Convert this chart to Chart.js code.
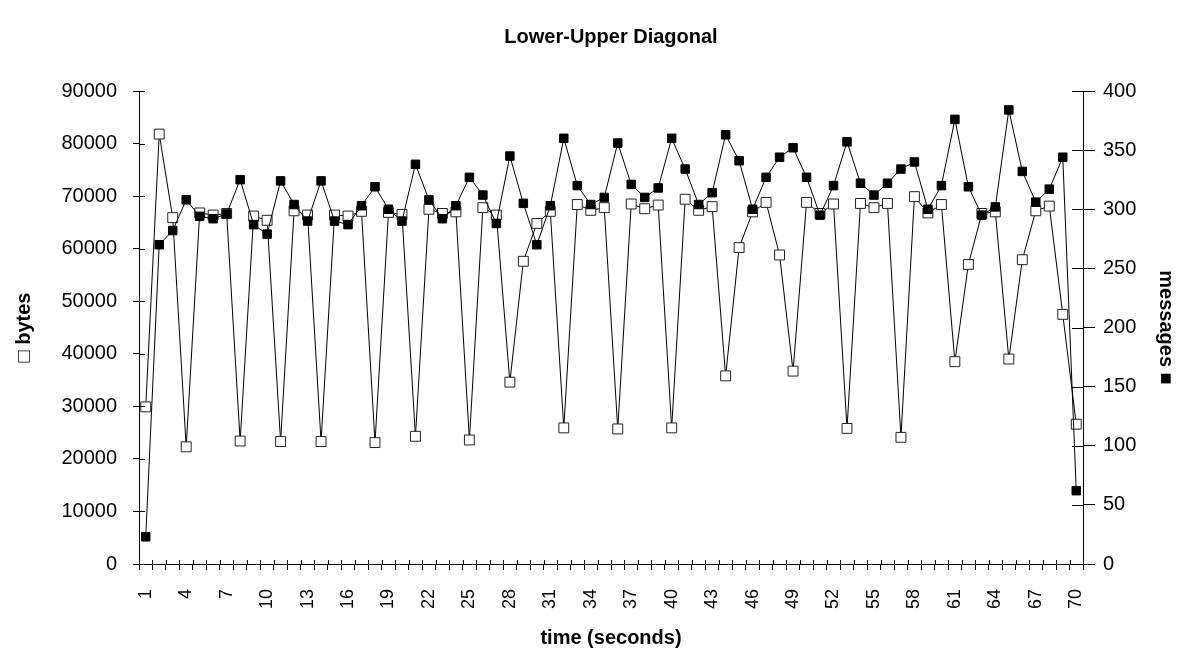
<!DOCTYPE html>
<html lang="en">
  <head>
    <meta charset="UTF-8" />
    <title>Lower-Upper Diagonal</title>
    <script src="https://cdn.jsdelivr.net/npm/chart.js"></script>
    <style>
      body { margin: 0; background: #fff; }
      #wrap { width: 1184px; height: 653px; }
    </style>
  </head>
  <body>
    <div id="wrap"><canvas id="luChart"></canvas></div>

    <script>
      // time axis (seconds)
      const times = Array.from({ length: 70 }, (_, i) => i + 1);

      // bytes (left axis, open squares)
      const bytes = [
        29900, 81800, 65900, 22300, 66800, 66400, 66700, 23400, 66200, 65400,
        23300, 67200, 66400, 23300, 66400, 66200, 67100, 23100, 66900, 66500,
        24300, 67500, 66700, 67000, 23600, 67800, 66400, 34600, 57600, 64800,
        67100, 25900, 68400, 67300, 67800, 25700, 68500, 67600, 68300, 25900,
        69400, 67300, 68000, 35800, 60200, 67000, 68800, 58800, 36700, 68800,
        66700, 68500, 25800, 68600, 67800, 68600, 24100, 69900, 66800, 68400,
        38500, 57000, 66700, 67000, 39000, 57900, 67200, 68100, 47500, 26600,
      ];

      // messages (right axis, filled squares)
      const messages = [
        23, 270, 282, 308, 294, 292, 296, 325, 287, 279,
        324, 304, 290, 324, 290, 287, 303, 319, 300, 290,
        338, 308, 292, 303, 327, 312, 288, 345, 305, 270,
        303, 360, 320, 304, 310, 356, 321, 310, 318, 360,
        334, 304, 314, 363, 341, 300, 327, 344, 352, 327,
        295, 320, 357, 322, 312, 322, 334, 340, 300, 320,
        376, 319, 295, 302, 384, 332, 306, 317, 344, 62,
      ];

      const FONT = "'Liberation Sans', Arial, sans-serif";

      // tick marks that cross the axis lines (drawn inside the plot)
      const innerTicks = {
        id: "innerTicks",
        afterDraw(chart) {
          const { ctx, scales } = chart;
          const { x, y, y1 } = scales;
          ctx.save();
          ctx.strokeStyle = "#000";
          ctx.lineWidth = 1;
          ctx.beginPath();
          y.ticks.forEach((t) => {
            const py = Math.round(y.getPixelForValue(t.value)) + 0.5;
            ctx.moveTo(y.right, py);
            ctx.lineTo(y.right + 6, py);
          });
          y1.ticks.forEach((t) => {
            const py = Math.round(y1.getPixelForValue(t.value)) + 0.5;
            ctx.moveTo(y1.left, py);
            ctx.lineTo(y1.left - 11, py);
          });
          const half = (x.getPixelForValue(1) - x.getPixelForValue(0)) / 2;
          for (let i = 0; i <= times.length; i += 1) {
            const px = Math.round(x.getPixelForValue(i) - half) + 0.5;
            ctx.moveTo(px, x.top);
            ctx.lineTo(px, x.top - 4);
          }
          ctx.stroke();
          ctx.restore();
        },
      };

      const ctx = document.getElementById("luChart").getContext("2d");
      new Chart(ctx, {
        type: "line",
        data: {
          labels: times,
          datasets: [
            {
              label: "messages",
              data: messages,
              yAxisID: "y1",
              borderColor: "#000",
              borderWidth: 1,
              pointStyle: "rect",
              pointRadius: 6,
              pointBackgroundColor: "#000",
              pointBorderColor: "#000",
              pointBorderWidth: 1,
              fill: false,
            },
            {
              label: "bytes",
              data: bytes,
              yAxisID: "y",
              borderColor: "#000",
              borderWidth: 1,
              pointStyle: "rect",
              pointRadius: 7,
              pointBackgroundColor: "#fff",
              pointBorderColor: "#222",
              pointBorderWidth: 1,
              fill: false,
            },
          ],
        },
        options: {
          responsive: true,
          maintainAspectRatio: false,
          animation: false,
          layout: { padding: 0 },
          plugins: {
            legend: { display: false },
            tooltip: { enabled: false },
            title: {
              display: true,
              text: "Lower-Upper Diagonal",
              color: "#000",
              fullSize: false,
              font: { family: FONT, size: 20, weight: "bold" },
              padding: { top: 25, bottom: 42 },
            },
          },
          scales: {
            x: {
              offset: true,
              grid: {
                display: true,
                offset: true,
                drawOnChartArea: false,
                color: "#000",
                tickLength: 6,
              },
              border: { display: true, color: "#000" },
              ticks: {
                autoSkip: false,
                minRotation: 90,
                maxRotation: 90,
                padding: 19,
                color: "#000",
                font: { family: FONT, size: 18 },
                callback: (val, idx) => (idx % 3 === 0 ? String(times[idx]) : ""),
              },
              title: {
                display: true,
                text: "time (seconds)",
                color: "#000",
                font: { family: FONT, size: 20, weight: "bold" },
                padding: { top: 0, bottom: 3 },
              },
              afterFit: (scale) => {
                scale.height = 89;
              },
            },
            y: {
              position: "left",
              min: 0,
              max: 90000,
              grid: { drawOnChartArea: false, color: "#000", tickLength: 6 },
              border: { display: true, color: "#000" },
              ticks: {
                stepSize: 10000,
                padding: 16,
                color: "#000",
                font: { family: FONT, size: 20 },
                callback: (val) => String(val),
              },
              title: {
                display: true,
                text: "\u25A1 bytes",
                color: "#000",
                font: { family: FONT, size: 20, weight: "bold" },
                padding: { top: 12, bottom: 0 },
              },
              afterFit: (scale) => {
                scale.width = 139;
              },
            },
            y1: {
              position: "right",
              min: 0,
              max: 400,
              grid: { drawOnChartArea: false, color: "#000", tickLength: 12 },
              border: { display: true, color: "#000" },
              ticks: {
                stepSize: 50,
                padding: 8,
                color: "#000",
                font: { family: FONT, size: 20 },
                callback: (val) => String(val),
              },
              title: {
                display: true,
                text: "messages \u25A0",
                color: "#000",
                font: { family: FONT, size: 20, weight: "bold" },
                padding: { top: 6, bottom: 0 },
              },
              afterFit: (scale) => {
                scale.width = 101;
              },
            },
          },
        },
        plugins: [innerTicks],
      });
    </script>
  </body>
</html>
